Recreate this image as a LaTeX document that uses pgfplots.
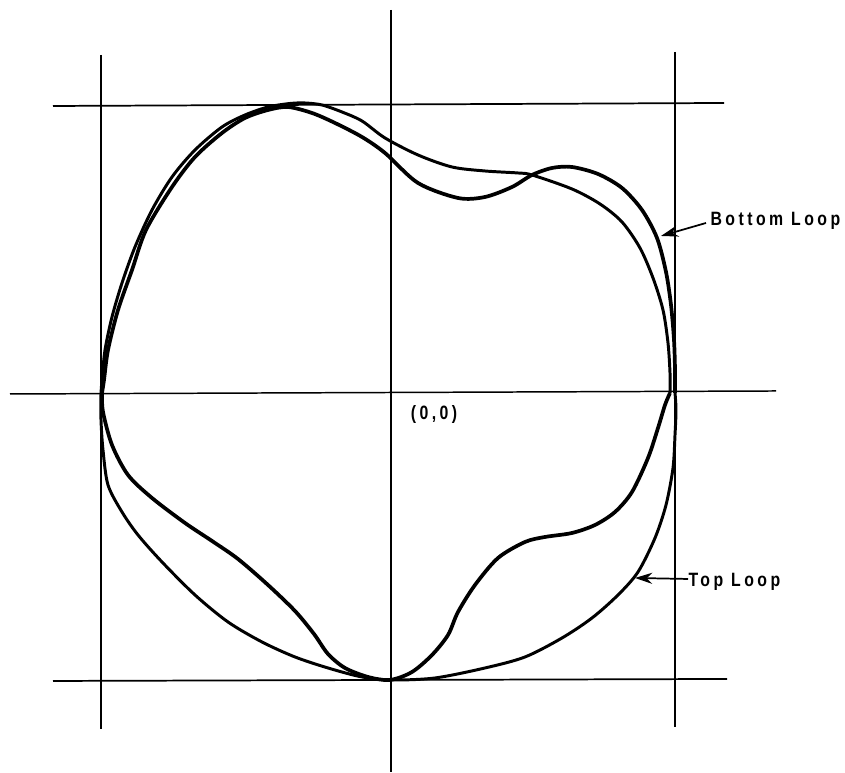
\documentclass[border=0pt]{standalone}
\usepackage{pgfplots}
\pgfplotsset{compat=1.18}
\usepackage{fontspec}
\setmainfont{Liberation Sans}
\usetikzlibrary{arrows.meta}

% Traced path of the two loops, in plot units centred on (0,0);
% the reference square spans roughly -290..284 in x and -287..288 in y.
\newcommand{\lbl}{\fontsize{7.8}{9}\selectfont\bfseries
  \addfontfeature{FakeStretch=0.82,LetterSpace=18}}
\begin{document}
\begin{tikzpicture}
\begin{axis}[
  scale only axis,
  width=12cm, height=10.963cm,
  xmin=-391, xmax=454, ymin=-379, ymax=393,
  hide axis, clip=false,
]
% extent of the drawing
\addplot[draw=none] coordinates {(-391,-379) (454,393)};

% reference lines
\addplot[black, line width=0.5pt] coordinates {(0,383) (0,-379)};
\addplot[black, line width=0.6pt] coordinates {(-381,-1) (385,2)};
\addplot[black, line width=0.45pt] coordinates {(-290,338) (-290,-336)};
\addplot[black, line width=0.45pt] coordinates {(284,341) (284,-334)};
\addplot[black, line width=0.7pt] coordinates {(-338,287) (333,290)};
\addplot[black, line width=0.7pt] coordinates {(-338,-288) (336,-286)};

% upper branch, flat crest
\addplot[black, line width=1.2pt, smooth] coordinates {
 (-290,0) (-289,13) (-286,43) (-279,76) (-269,110) (-256,146) (-239,183)
 (-219,216) (-196,243) (-169,266) (-146,278) (-123,286) (-101,289.5)
 (-86,290) (-69,288) (-49,281) (-29,272) (-6,255) (27,238)
 (61,226) (94,222) (127,220) (141,218) (181,204) (209,189) (231,171)
 (249,145) (262,115) (272,83) (277,50) (279,20) (279,0)};

% upper branch, dip and shoulder
\addplot[black, line width=1.5pt, smooth] coordinates {
 (-289,0) (-287,13) (-283,43) (-273,83) (-259,123) (-245,163) (-219,206)
 (-196,236) (-169,260) (-146,275) (-123,283) (-103,286) (-79,280)
 (-56,270) (-29,256) (-6,240) (27,210) (67,195) (94,196) (121,206)
 (141,218) (161,225) (181,226) (207,219) (231,205) (251,183) (266,155)
 (275,121) (280,88) (283,53) (284,23) (284,0)};

% lower branch, S-shaped
\addplot[black, line width=1.5pt, smooth] coordinates {
 (279,0) (274,-12) (267,-35) (257,-65) (241,-99) (224,-119) (204,-132)
 (181,-140) (154,-144) (134,-149) (107,-165) (84,-192) (67,-219)
 (57,-242) (41,-262) (21,-279) (-1,-287) (-23,-284) (-46,-275)
 (-63,-261) (-77,-241) (-96,-218) (-123,-192) (-153,-166) (-179,-148)
 (-206,-130) (-239,-105) (-263,-82) (-279,-52) (-288,-19) (-289,0)};

% lower branch, outer
\addplot[black, line width=1.2pt, smooth] coordinates {
 (284,0) (285,-17) (284,-42) (282,-75) (275,-112) (264,-145) (247,-179)
 (227,-202) (201,-225) (171,-245) (134,-264) (94,-275) (44,-285)
 (1,-287) (-29,-284) (-63,-275) (-96,-264) (-129,-249) (-163,-229)
 (-196,-202) (-229,-169) (-253,-142) (-269,-119) (-283,-92) (-288,-57)
 (-290,-27) (-290,0)};

% labels
\node[font=\lbl] at (axis cs:43,-22) {(0,0)};
\node[font=\lbl, anchor=west, inner sep=0pt] at (axis cs:319,172) {Bottom Loop};
\draw[black, line width=0.7pt, -{Stealth[length=7pt,width=4.5pt]}]
  (axis cs:315,170) -- (axis cs:270,157);
\node[font=\lbl, anchor=west, inner sep=0pt] at (axis cs:297,-189) {Top Loop};
\draw[black, line width=0.7pt, -{Stealth[length=7pt,width=4.5pt]}]
  (axis cs:297,-186) -- (axis cs:244,-185);
\end{axis}
\end{tikzpicture}
\end{document}
